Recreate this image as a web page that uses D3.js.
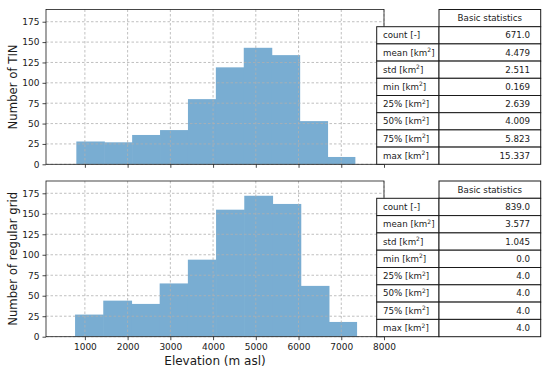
<!DOCTYPE html>
<html><head><meta charset="utf-8">
<script src="https://cdn.jsdelivr.net/npm/d3@7"></script>
<style>body{margin:0;background:#fff}svg{display:block}text{font-family:"DejaVu Sans",sans-serif;fill:#1a1a1a}</style>
</head><body>
<svg id="c" width="550" height="373"></svg>
<script>
const xTicks = [1000,2000,3000,4000,5000,6000,7000,8000];
const yTicks = [0,25,50,75,100,125,150,175];
const tinEdges = [800,1453,2106,2759,3412,4065,4718,5371,6024,6677,7330];
const tinCounts = [28,27,36,42,80,119,143,134,53,9];
const gridEdges = [770,1430,2090,2750,3410,4070,4730,5390,6050,6710,7370];
const gridCounts = [27,44,40,65,94,155,172,162,62,18];
const statNames = ["count","mean","std","min","25%","50%","75%","max"];
const statUnits = ["-","km2","km2","km2","km2","km2","km2","km2"];
const tinStats = ["671.0","4.479","2.511","0.169","2.639","4.009","5.823","15.337"];
const gridStats = ["839.0","3.577","1.045","0.0","4.0","4.0","4.0","4.0"];
const tableHeader = "Basic statistics";
const yLabels = ["Number of TIN","Number of regular grid"];
const xLabel = "Elevation (m asl)";

const svg = d3.select("#c");
const x = d3.scaleLinear().domain([90,8000]).range([46,384]);
const panels = [
  {top:9.5, bottom:164.3, edges:tinEdges, counts:tinCounts, stats:tinStats, ylab:yLabels[0], showX:false},
  {top:181, bottom:336.7, edges:gridEdges, counts:gridCounts, stats:gridStats, ylab:yLabels[1], showX:true}
];
panels.forEach(p=>{
  const y = d3.scaleLinear().domain([0,190]).range([p.bottom,p.top]);
  const g = svg.append("g");
  g.selectAll("rect.bar").data(p.counts).join("rect")
    .attr("x",(d,i)=>x(p.edges[i]))
    .attr("width",(d,i)=>x(p.edges[i+1])-x(p.edges[i])+(i<p.counts.length-1?0.6:0))
    .attr("y",d=>y(d)).attr("height",d=>y(0)-y(d))
    .attr("fill","#79add2");
  g.selectAll("line.gx").data(xTicks).join("line")
    .attr("x1",d=>x(d)).attr("x2",d=>x(d)).attr("y1",p.top).attr("y2",p.bottom)
    .attr("stroke","#b0b0b0").attr("stroke-width",0.8).attr("stroke-dasharray","2.5,2");
  g.selectAll("line.gy").data(yTicks).join("line")
    .attr("y1",d=>y(d)).attr("y2",d=>y(d)).attr("x1",46).attr("x2",384)
    .attr("stroke","#b0b0b0").attr("stroke-width",0.8).attr("stroke-dasharray","2.5,2");
  const ax = d3.axisBottom(x).tickValues(xTicks).tickSize(3.5).tickPadding(3).tickFormat(p.showX?d3.format("d"):"");
  const gx = g.append("g").attr("transform",`translate(0,${p.bottom})`).call(ax);
  const ay = d3.axisLeft(y).tickValues(yTicks).tickSize(3.5).tickPadding(3);
  const gy = g.append("g").attr("transform","translate(46,0)").call(ay);
  [gx,gy].forEach(a=>{a.select(".domain").remove();a.selectAll("text").attr("font-size",9).attr("font-family","DejaVu Sans").attr("fill","#1a1a1a");a.selectAll(".tick line").attr("stroke","#1a1a1a").attr("stroke-width",0.8);});
  g.append("rect").attr("x",46).attr("y",p.top).attr("width",384-46).attr("height",p.bottom-p.top)
    .attr("fill","none").attr("stroke","#1a1a1a").attr("stroke-width",0.8);
  g.append("text").attr("transform",`translate(17,${(p.top+p.bottom)/2}) rotate(-90)`)
    .attr("text-anchor","middle").attr("font-size",11.7).text(p.ylab);
  const rowH = (p.bottom-p.top)/9;
  const t = svg.append("g");
  t.append("rect").attr("x",439).attr("y",p.top).attr("width",540.7-439).attr("height",rowH)
    .attr("fill","#fff").attr("stroke","#1a1a1a").attr("stroke-width",1);
  t.append("text").attr("x",(439+540.7)/2).attr("y",p.top+rowH/2).attr("dy","0.35em")
    .attr("text-anchor","middle").attr("font-size",8.7).text(tableHeader);
  statNames.forEach((n,i)=>{
    const ry = p.top+rowH*(i+1);
    t.append("rect").attr("x",376.7).attr("y",ry).attr("width",439-376.7).attr("height",rowH)
      .attr("fill","#fff").attr("stroke","#1a1a1a").attr("stroke-width",1);
    t.append("rect").attr("x",439).attr("y",ry).attr("width",540.7-439).attr("height",rowH)
      .attr("fill","#fff").attr("stroke","#1a1a1a").attr("stroke-width",1);
    const lt = t.append("text").attr("x",383).attr("y",ry+rowH/2).attr("dy","0.35em").attr("font-size",8.7);
    if(statUnits[i]==="km2"){
      lt.append("tspan").text(n+" [km");
      lt.append("tspan").attr("font-size",6).attr("dy",-3.5).text("2");
      lt.append("tspan").attr("dy",3.5).text("]");
    } else lt.text(n+" ["+statUnits[i]+"]");
    t.append("text").attr("x",530).attr("y",ry+rowH/2).attr("dy","0.35em").attr("text-anchor","end")
      .attr("font-size",8.7).text(p.stats[i]);
  });
});
svg.append("text").attr("x",215).attr("y",365).attr("text-anchor","middle").attr("font-size",12).text(xLabel);
</script>
</body></html>
